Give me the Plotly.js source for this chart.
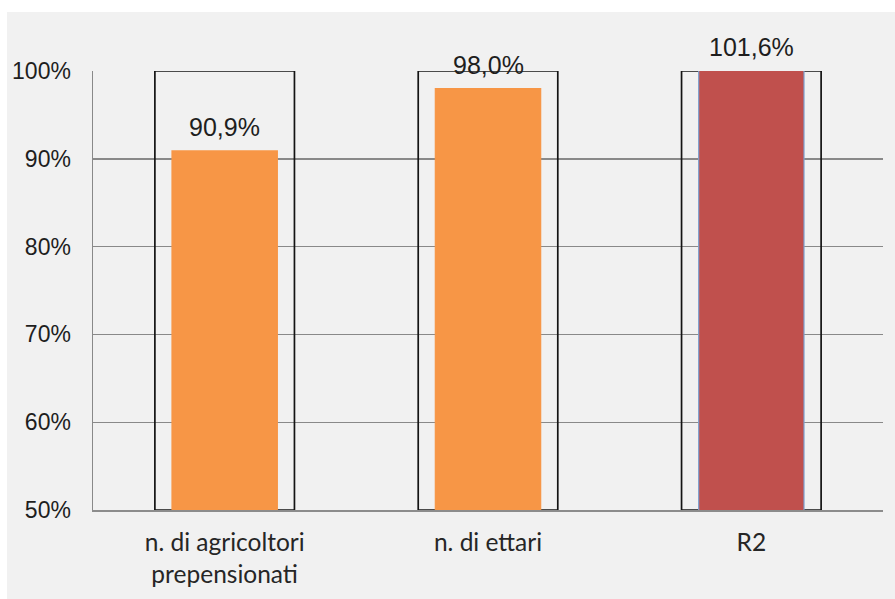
<!DOCTYPE html>
<html>
<head>
<meta charset="utf-8">
<script src="https://cdn.plot.ly/plotly-3.0.1.min.js"></script>
<style>
  html, body { margin: 0; padding: 0; background: #ffffff; }
  #chart { width: 895px; height: 599px; }
</style>
</head>
<body>
<div id="chart"></div>
<script>
// Indicator categories and their achievement ratios (1 = 100% of target)
const categories = ['n. di agricoltori<br>prepensionati', 'n. di ettari', 'R2'];
const achieved = [0.909, 0.980, 1.016];
const target = [1, 1, 1];
const yTickVals = [0.5, 0.6, 0.7, 0.8, 0.9, 1.0];

const Y_MIN = 0.5, Y_MAX = 1.0;
const fillColors = ['#f79646', '#f79646', '#c0504d'];
const edgeColors = ['#f79646', '#f79646', '#7da0cf'];

const W = 895, H = 599;
const M = { l: 93, r: 12, t: 71, b: 89 };
const plotW = W - M.l - M.r, plotH = H - M.t - M.b;

const fmtPct = v => (v * 100).toFixed(1).replace('.', ',') + '%';

// Target frames: outlined boxes from the axis floor up to the target
const targetTrace = {
  type: 'bar',
  x: categories,
  y: target.map(t => t - Y_MIN),
  base: target.map(() => Y_MIN),
  width: 0.53,
  marker: { color: 'rgba(0,0,0,0)', line: { color: '#141414', width: 1.7 } },
  cliponaxis: false,
  hoverinfo: 'skip',
  showlegend: false
};

// Achieved values
const valueTrace = {
  type: 'bar',
  x: categories,
  y: achieved,
  width: 0.4,
  marker: { color: fillColors, line: { color: edgeColors, width: 1.2 } },
  cliponaxis: true,
  hoverinfo: 'skip',
  showlegend: false
};

const annotations = achieved.map((v, i) => ({
  x: i,
  y: Math.min(v, Y_MAX),
  xref: 'x', yref: 'y',
  text: fmtPct(v),
  showarrow: false,
  yanchor: 'middle',
  yshift: 24,
  font: { family: 'Liberation Sans, Arial, sans-serif', size: 25, color: '#1e1e1e' }
}));

const layout = {
  width: W, height: H,
  margin: M,
  paper_bgcolor: '#ffffff',
  plot_bgcolor: '#f1f1f1',
  separators: ',.',
  barmode: 'overlay',
  showlegend: false,
  shapes: [{
    type: 'rect', xref: 'paper', yref: 'paper', layer: 'below',
    x0: (7 - M.l) / plotW, x1: (W - M.l) / plotW,
    y0: (plotH + M.t - H) / plotH, y1: (plotH + M.t - 12) / plotH,
    fillcolor: '#f1f1f1', line: { width: 0 }
  }],
  xaxis: {
    type: 'category',
    showgrid: false,
    zeroline: false,
    showline: true,
    linecolor: '#8c8c8c',
    linewidth: 2,
    layer: 'above traces',
    ticks: '',
    ticklabelstandoff: 10,
    tickfont: { family: 'Lato, sans-serif', size: 24.5, color: '#262626' },
    fixedrange: true
  },
  yaxis: {
    range: [Y_MIN, Y_MAX],
    tickvals: yTickVals,
    tickformat: '.0%',
    showgrid: true,
    gridcolor: '#898989',
    gridwidth: 1.4,
    zeroline: false,
    showline: true,
    linecolor: '#898989',
    linewidth: 1.5,
    layer: 'above traces',
    ticks: '',
    ticklabelstandoff: 16,
    tickfont: { family: 'Liberation Sans, Arial, sans-serif', size: 23, color: '#1e1e1e' },
    fixedrange: true
  },
  annotations: annotations
};

Plotly.newPlot('chart', [targetTrace, valueTrace], layout, { displayModeBar: false, staticPlot: true });
</script>
</body>
</html>
